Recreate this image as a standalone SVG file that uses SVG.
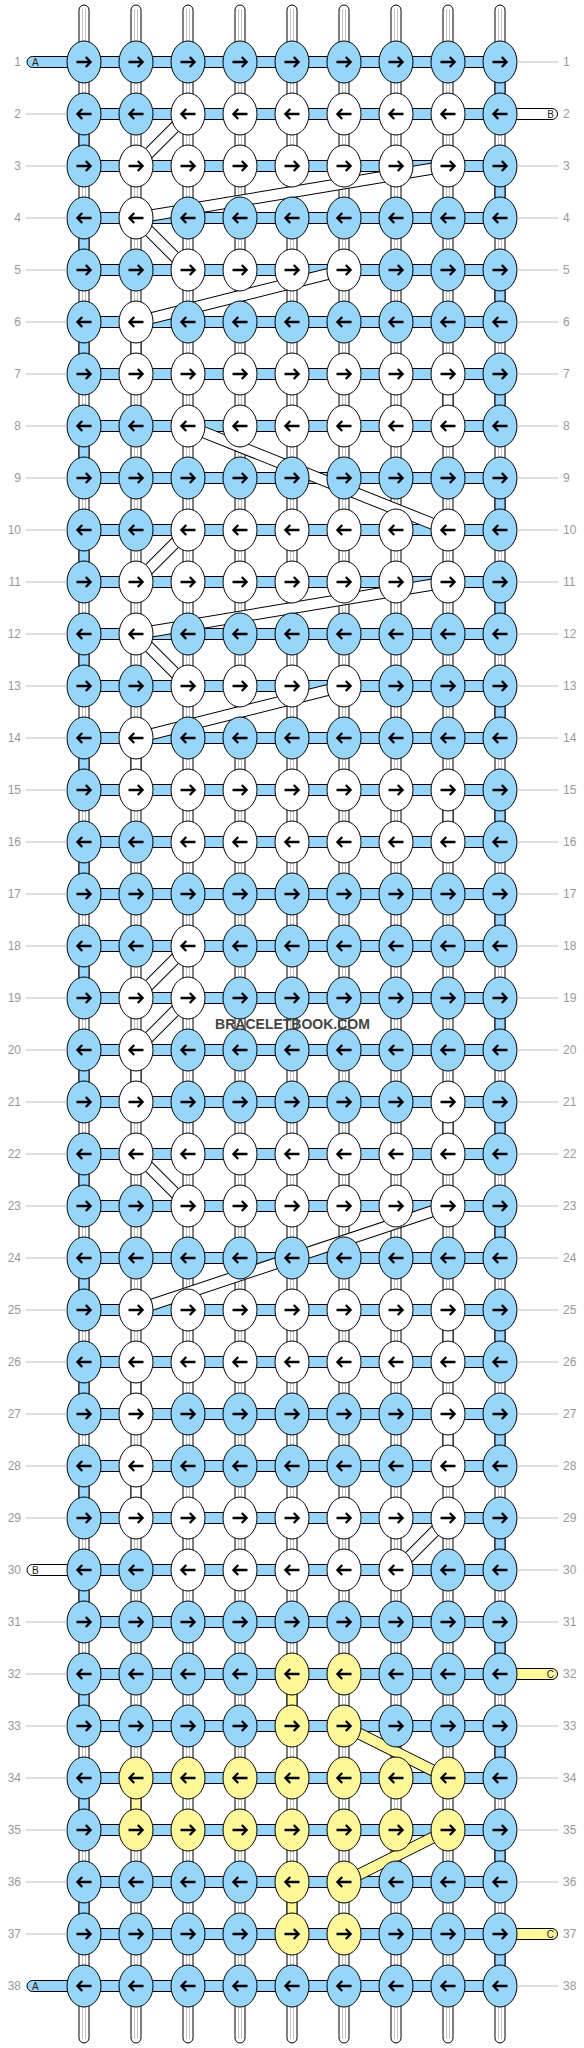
<svg xmlns="http://www.w3.org/2000/svg" xmlns:xlink="http://www.w3.org/1999/xlink" width="584" height="2048" viewBox="0 0 584 2048">
<style>
.v{fill:#fff;stroke:#000;stroke-width:1}
.g{stroke:#c4c4c4;stroke-width:1;fill:none}
.bl{fill:#98d5fb;stroke:#000;stroke-width:1}
.wh{fill:#fff;stroke:#000;stroke-width:1}
.ye{fill:#fff89a;stroke:#000;stroke-width:1}
.bo{stroke:#000;stroke-width:12}
.bw{stroke:#fff;stroke-width:10}
.by{stroke:#fff89a;stroke-width:10}
.num{font-family:"Liberation Sans",Arial,sans-serif;font-size:12px;fill:#999}
.r{text-anchor:start}
.l{text-anchor:end}
.rl{stroke:#bbb;stroke-width:1;fill:none}
.lab{font-family:"Liberation Sans",Arial,sans-serif;font-size:10px;fill:#222}
.wm{font-family:"Liberation Sans",Arial,sans-serif;font-weight:bold;font-size:14px;fill:#444;text-anchor:middle}
</style>
<defs>
<path id="ar" d="M-7.5 0H6M1.8-5 6.6 0 1.8 5" fill="none" stroke="#000" stroke-width="2.3"/>
<g id="BR"><ellipse class="bl" rx="17" ry="21"/><use href="#ar"/></g>
<g id="BL"><ellipse class="bl" rx="17" ry="21"/><use href="#ar" transform="scale(-1 1)"/></g>
<g id="WR"><ellipse class="wh" rx="17" ry="21"/><use href="#ar"/></g>
<g id="WL"><ellipse class="wh" rx="17" ry="21"/><use href="#ar" transform="scale(-1 1)"/></g>
<g id="YR"><ellipse class="ye" rx="17" ry="21"/><use href="#ar"/></g>
<g id="YL"><ellipse class="ye" rx="17" ry="21"/><use href="#ar" transform="scale(-1 1)"/></g>
<rect id="sb" class="bl" width="10" height="24"/>
<rect id="sw" class="wh" width="10" height="24"/>
<rect id="sy" class="ye" width="10" height="24"/>
<rect id="hb" class="bl" x="84" y="-5.5" width="416" height="11"/>
</defs>
<rect width="584" height="2048" fill="#fff"/>
<g id="connectors">
<g id="threads">
<rect class="v" x="79" y="5" width="10" height="2038" rx="5"/>
<rect class="v" x="131" y="5" width="10" height="2038" rx="5"/>
<rect class="v" x="183" y="5" width="10" height="2038" rx="5"/>
<rect class="v" x="235" y="5" width="10" height="2038" rx="5"/>
<rect class="v" x="287" y="5" width="10" height="2038" rx="5"/>
<rect class="v" x="339" y="5" width="10" height="2038" rx="5"/>
<rect class="v" x="391" y="5" width="10" height="2038" rx="5"/>
<rect class="v" x="443" y="5" width="10" height="2038" rx="5"/>
<rect class="v" x="495" y="5" width="10" height="2038" rx="5"/>
<path class="g" d="M82.5 9V2039M85.5 9V2039M134.5 9V2039M137.5 9V2039M186.5 9V2039M189.5 9V2039M238.5 9V2039M241.5 9V2039M290.5 9V2039M293.5 9V2039M342.5 9V2039M345.5 9V2039M394.5 9V2039M397.5 9V2039M446.5 9V2039M449.5 9V2039M498.5 9V2039M501.5 9V2039"/>
</g>
<g id="vsegs">
<use href="#sb" x="495" y="76"/><use href="#sb" x="79" y="128"/><use href="#sb" x="495" y="180"/><use href="#sb" x="79" y="232"/><use href="#sb" x="495" y="284"/><use href="#sb" x="79" y="336"/><use href="#sb" x="495" y="388"/><use href="#sb" x="79" y="440"/><use href="#sb" x="495" y="492"/><use href="#sb" x="79" y="544"/><use href="#sb" x="495" y="596"/><use href="#sb" x="79" y="648"/><use href="#sb" x="495" y="700"/><use href="#sb" x="79" y="752"/><use href="#sb" x="495" y="804"/><use href="#sb" x="79" y="856"/><use href="#sb" x="495" y="908"/><use href="#sb" x="79" y="960"/><use href="#sb" x="495" y="1012"/><use href="#sb" x="79" y="1064"/><use href="#sb" x="495" y="1116"/><use href="#sb" x="79" y="1168"/><use href="#sb" x="495" y="1220"/><use href="#sb" x="79" y="1272"/><use href="#sb" x="495" y="1324"/><use href="#sb" x="79" y="1376"/><use href="#sb" x="495" y="1428"/><use href="#sb" x="79" y="1480"/><use href="#sb" x="495" y="1532"/><use href="#sb" x="79" y="1584"/><use href="#sb" x="495" y="1636"/><use href="#sb" x="79" y="1688"/><use href="#sb" x="495" y="1740"/><use href="#sb" x="79" y="1792"/><use href="#sb" x="495" y="1844"/><use href="#sb" x="79" y="1896"/><use href="#sb" x="495" y="1948"/>
<use href="#sw" x="131" y="336"/><use href="#sw" x="443" y="388"/><use href="#sw" x="131" y="752"/><use href="#sw" x="443" y="804"/><use href="#sw" x="131" y="1064"/><use href="#sw" x="443" y="1116"/><use href="#sw" x="443" y="1324"/><use href="#sw" x="131" y="1376"/><use href="#sw" x="443" y="1428"/><use href="#sw" x="131" y="1480"/>
<use href="#sy" x="287" y="1688"/><use href="#sy" x="131" y="1792"/><use href="#sy" x="287" y="1896"/>
</g>
<g id="hbars">
<use href="#hb" y="62"/><use href="#hb" y="114"/><use href="#hb" y="166"/><use href="#hb" y="218"/><use href="#hb" y="270"/><use href="#hb" y="322"/><use href="#hb" y="374"/><use href="#hb" y="426"/><use href="#hb" y="478"/><use href="#hb" y="530"/><use href="#hb" y="582"/><use href="#hb" y="634"/><use href="#hb" y="686"/><use href="#hb" y="738"/><use href="#hb" y="790"/><use href="#hb" y="842"/><use href="#hb" y="894"/><use href="#hb" y="946"/><use href="#hb" y="998"/><use href="#hb" y="1050"/><use href="#hb" y="1102"/><use href="#hb" y="1154"/><use href="#hb" y="1206"/><use href="#hb" y="1258"/><use href="#hb" y="1310"/><use href="#hb" y="1362"/><use href="#hb" y="1414"/><use href="#hb" y="1466"/><use href="#hb" y="1518"/><use href="#hb" y="1570"/><use href="#hb" y="1622"/><use href="#hb" y="1674"/><use href="#hb" y="1726"/><use href="#hb" y="1778"/><use href="#hb" y="1830"/><use href="#hb" y="1882"/><use href="#hb" y="1934"/><use href="#hb" y="1986"/>
<rect class="bl" x="27" y="56.5" width="60" height="11" rx="5.5"/>
<rect class="bl" x="27" y="1980.5" width="60" height="11" rx="5.5"/>
<rect class="wh" x="27" y="1564.5" width="60" height="11" rx="5.5"/>
<rect class="wh" x="497" y="108.5" width="60.5" height="11" rx="5.5"/>
<rect class="ye" x="497" y="1668.5" width="60.5" height="11" rx="5.5"/>
<rect class="ye" x="497" y="1928.5" width="60.5" height="11" rx="5.5"/>
</g>
<g id="bands">
<path class="bo" d="M188 114L136 166M448 166L136 218M136 218L188 270M344 270L136 322M188 426L448 530M188 530L136 582M448 582L136 634M136 634L188 686M344 686L136 738M188 946L136 998M188 998L136 1050M136 1154L188 1206M448 1206L136 1310M448 1518L396 1570M344 1726L448 1778M448 1830L344 1882"/>
<path class="bw" d="M188 114L136 166M448 166L136 218M136 218L188 270M344 270L136 322M188 426L448 530M188 530L136 582M448 582L136 634M136 634L188 686M344 686L136 738M188 946L136 998M188 998L136 1050M136 1154L188 1206M448 1206L136 1310M448 1518L396 1570"/>
<path class="by" d="M344 1726L448 1778M448 1830L344 1882"/>
</g>
</g>
<g id="nodes">
<g id="row1" transform="translate(0 62)"><g id="n1-1"><use href="#BR" x="84"/></g><g id="n1-2"><use href="#BR" x="136"/></g><g id="n1-3"><use href="#BR" x="188"/></g><g id="n1-4"><use href="#BR" x="240"/></g><g id="n1-5"><use href="#BR" x="292"/></g><g id="n1-6"><use href="#BR" x="344"/></g><g id="n1-7"><use href="#BR" x="396"/></g><g id="n1-8"><use href="#BR" x="448"/></g><g id="n1-9"><use href="#BR" x="500"/></g></g>
<g id="row2" transform="translate(0 114)"><g id="n2-1"><use href="#BL" x="84"/></g><g id="n2-2"><use href="#BL" x="136"/></g><g id="n2-3"><use href="#WL" x="188"/></g><g id="n2-4"><use href="#WL" x="240"/></g><g id="n2-5"><use href="#WL" x="292"/></g><g id="n2-6"><use href="#WL" x="344"/></g><g id="n2-7"><use href="#WL" x="396"/></g><g id="n2-8"><use href="#WL" x="448"/></g><g id="n2-9"><use href="#BL" x="500"/></g></g>
<g id="row3" transform="translate(0 166)"><g id="n3-1"><use href="#BR" x="84"/></g><g id="n3-2"><use href="#WR" x="136"/></g><g id="n3-3"><use href="#WR" x="188"/></g><g id="n3-4"><use href="#WR" x="240"/></g><g id="n3-5"><use href="#WR" x="292"/></g><g id="n3-6"><use href="#WR" x="344"/></g><g id="n3-7"><use href="#WR" x="396"/></g><g id="n3-8"><use href="#WR" x="448"/></g><g id="n3-9"><use href="#BR" x="500"/></g></g>
<g id="row4" transform="translate(0 218)"><g id="n4-1"><use href="#BL" x="84"/></g><g id="n4-2"><use href="#WL" x="136"/></g><g id="n4-3"><use href="#BL" x="188"/></g><g id="n4-4"><use href="#BL" x="240"/></g><g id="n4-5"><use href="#BL" x="292"/></g><g id="n4-6"><use href="#BL" x="344"/></g><g id="n4-7"><use href="#BL" x="396"/></g><g id="n4-8"><use href="#BL" x="448"/></g><g id="n4-9"><use href="#BL" x="500"/></g></g>
<g id="row5" transform="translate(0 270)"><g id="n5-1"><use href="#BR" x="84"/></g><g id="n5-2"><use href="#BR" x="136"/></g><g id="n5-3"><use href="#WR" x="188"/></g><g id="n5-4"><use href="#WR" x="240"/></g><g id="n5-5"><use href="#WR" x="292"/></g><g id="n5-6"><use href="#WR" x="344"/></g><g id="n5-7"><use href="#BR" x="396"/></g><g id="n5-8"><use href="#BR" x="448"/></g><g id="n5-9"><use href="#BR" x="500"/></g></g>
<g id="row6" transform="translate(0 322)"><g id="n6-1"><use href="#BL" x="84"/></g><g id="n6-2"><use href="#WL" x="136"/></g><g id="n6-3"><use href="#BL" x="188"/></g><g id="n6-4"><use href="#BL" x="240"/></g><g id="n6-5"><use href="#BL" x="292"/></g><g id="n6-6"><use href="#BL" x="344"/></g><g id="n6-7"><use href="#BL" x="396"/></g><g id="n6-8"><use href="#BL" x="448"/></g><g id="n6-9"><use href="#BL" x="500"/></g></g>
<g id="row7" transform="translate(0 374)"><g id="n7-1"><use href="#BR" x="84"/></g><g id="n7-2"><use href="#WR" x="136"/></g><g id="n7-3"><use href="#WR" x="188"/></g><g id="n7-4"><use href="#WR" x="240"/></g><g id="n7-5"><use href="#WR" x="292"/></g><g id="n7-6"><use href="#WR" x="344"/></g><g id="n7-7"><use href="#WR" x="396"/></g><g id="n7-8"><use href="#WR" x="448"/></g><g id="n7-9"><use href="#BR" x="500"/></g></g>
<g id="row8" transform="translate(0 426)"><g id="n8-1"><use href="#BL" x="84"/></g><g id="n8-2"><use href="#BL" x="136"/></g><g id="n8-3"><use href="#WL" x="188"/></g><g id="n8-4"><use href="#WL" x="240"/></g><g id="n8-5"><use href="#WL" x="292"/></g><g id="n8-6"><use href="#WL" x="344"/></g><g id="n8-7"><use href="#WL" x="396"/></g><g id="n8-8"><use href="#WL" x="448"/></g><g id="n8-9"><use href="#BL" x="500"/></g></g>
<g id="row9" transform="translate(0 478)"><g id="n9-1"><use href="#BR" x="84"/></g><g id="n9-2"><use href="#BR" x="136"/></g><g id="n9-3"><use href="#BR" x="188"/></g><g id="n9-4"><use href="#BR" x="240"/></g><g id="n9-5"><use href="#BR" x="292"/></g><g id="n9-6"><use href="#BR" x="344"/></g><g id="n9-7"><use href="#BR" x="396"/></g><g id="n9-8"><use href="#BR" x="448"/></g><g id="n9-9"><use href="#BR" x="500"/></g></g>
<g id="row10" transform="translate(0 530)"><g id="n10-1"><use href="#BL" x="84"/></g><g id="n10-2"><use href="#BL" x="136"/></g><g id="n10-3"><use href="#WL" x="188"/></g><g id="n10-4"><use href="#WL" x="240"/></g><g id="n10-5"><use href="#WL" x="292"/></g><g id="n10-6"><use href="#WL" x="344"/></g><g id="n10-7"><use href="#WL" x="396"/></g><g id="n10-8"><use href="#WL" x="448"/></g><g id="n10-9"><use href="#BL" x="500"/></g></g>
<g id="row11" transform="translate(0 582)"><g id="n11-1"><use href="#BR" x="84"/></g><g id="n11-2"><use href="#WR" x="136"/></g><g id="n11-3"><use href="#WR" x="188"/></g><g id="n11-4"><use href="#WR" x="240"/></g><g id="n11-5"><use href="#WR" x="292"/></g><g id="n11-6"><use href="#WR" x="344"/></g><g id="n11-7"><use href="#WR" x="396"/></g><g id="n11-8"><use href="#WR" x="448"/></g><g id="n11-9"><use href="#BR" x="500"/></g></g>
<g id="row12" transform="translate(0 634)"><g id="n12-1"><use href="#BL" x="84"/></g><g id="n12-2"><use href="#WL" x="136"/></g><g id="n12-3"><use href="#BL" x="188"/></g><g id="n12-4"><use href="#BL" x="240"/></g><g id="n12-5"><use href="#BL" x="292"/></g><g id="n12-6"><use href="#BL" x="344"/></g><g id="n12-7"><use href="#BL" x="396"/></g><g id="n12-8"><use href="#BL" x="448"/></g><g id="n12-9"><use href="#BL" x="500"/></g></g>
<g id="row13" transform="translate(0 686)"><g id="n13-1"><use href="#BR" x="84"/></g><g id="n13-2"><use href="#BR" x="136"/></g><g id="n13-3"><use href="#WR" x="188"/></g><g id="n13-4"><use href="#WR" x="240"/></g><g id="n13-5"><use href="#WR" x="292"/></g><g id="n13-6"><use href="#WR" x="344"/></g><g id="n13-7"><use href="#BR" x="396"/></g><g id="n13-8"><use href="#BR" x="448"/></g><g id="n13-9"><use href="#BR" x="500"/></g></g>
<g id="row14" transform="translate(0 738)"><g id="n14-1"><use href="#BL" x="84"/></g><g id="n14-2"><use href="#WL" x="136"/></g><g id="n14-3"><use href="#BL" x="188"/></g><g id="n14-4"><use href="#BL" x="240"/></g><g id="n14-5"><use href="#BL" x="292"/></g><g id="n14-6"><use href="#BL" x="344"/></g><g id="n14-7"><use href="#BL" x="396"/></g><g id="n14-8"><use href="#BL" x="448"/></g><g id="n14-9"><use href="#BL" x="500"/></g></g>
<g id="row15" transform="translate(0 790)"><g id="n15-1"><use href="#BR" x="84"/></g><g id="n15-2"><use href="#WR" x="136"/></g><g id="n15-3"><use href="#WR" x="188"/></g><g id="n15-4"><use href="#WR" x="240"/></g><g id="n15-5"><use href="#WR" x="292"/></g><g id="n15-6"><use href="#WR" x="344"/></g><g id="n15-7"><use href="#WR" x="396"/></g><g id="n15-8"><use href="#WR" x="448"/></g><g id="n15-9"><use href="#BR" x="500"/></g></g>
<g id="row16" transform="translate(0 842)"><g id="n16-1"><use href="#BL" x="84"/></g><g id="n16-2"><use href="#BL" x="136"/></g><g id="n16-3"><use href="#WL" x="188"/></g><g id="n16-4"><use href="#WL" x="240"/></g><g id="n16-5"><use href="#WL" x="292"/></g><g id="n16-6"><use href="#WL" x="344"/></g><g id="n16-7"><use href="#WL" x="396"/></g><g id="n16-8"><use href="#WL" x="448"/></g><g id="n16-9"><use href="#BL" x="500"/></g></g>
<g id="row17" transform="translate(0 894)"><g id="n17-1"><use href="#BR" x="84"/></g><g id="n17-2"><use href="#BR" x="136"/></g><g id="n17-3"><use href="#BR" x="188"/></g><g id="n17-4"><use href="#BR" x="240"/></g><g id="n17-5"><use href="#BR" x="292"/></g><g id="n17-6"><use href="#BR" x="344"/></g><g id="n17-7"><use href="#BR" x="396"/></g><g id="n17-8"><use href="#BR" x="448"/></g><g id="n17-9"><use href="#BR" x="500"/></g></g>
<g id="row18" transform="translate(0 946)"><g id="n18-1"><use href="#BL" x="84"/></g><g id="n18-2"><use href="#BL" x="136"/></g><g id="n18-3"><use href="#WL" x="188"/></g><g id="n18-4"><use href="#BL" x="240"/></g><g id="n18-5"><use href="#BL" x="292"/></g><g id="n18-6"><use href="#BL" x="344"/></g><g id="n18-7"><use href="#BL" x="396"/></g><g id="n18-8"><use href="#BL" x="448"/></g><g id="n18-9"><use href="#BL" x="500"/></g></g>
<g id="row19" transform="translate(0 998)"><g id="n19-1"><use href="#BR" x="84"/></g><g id="n19-2"><use href="#WR" x="136"/></g><g id="n19-3"><use href="#WR" x="188"/></g><g id="n19-4"><use href="#BR" x="240"/></g><g id="n19-5"><use href="#BR" x="292"/></g><g id="n19-6"><use href="#BR" x="344"/></g><g id="n19-7"><use href="#BR" x="396"/></g><g id="n19-8"><use href="#BR" x="448"/></g><g id="n19-9"><use href="#BR" x="500"/></g></g>
<g id="row20" transform="translate(0 1050)"><g id="n20-1"><use href="#BL" x="84"/></g><g id="n20-2"><use href="#WL" x="136"/></g><g id="n20-3"><use href="#BL" x="188"/></g><g id="n20-4"><use href="#BL" x="240"/></g><g id="n20-5"><use href="#BL" x="292"/></g><g id="n20-6"><use href="#BL" x="344"/></g><g id="n20-7"><use href="#BL" x="396"/></g><g id="n20-8"><use href="#BL" x="448"/></g><g id="n20-9"><use href="#BL" x="500"/></g></g>
<g id="row21" transform="translate(0 1102)"><g id="n21-1"><use href="#BR" x="84"/></g><g id="n21-2"><use href="#WR" x="136"/></g><g id="n21-3"><use href="#BR" x="188"/></g><g id="n21-4"><use href="#BR" x="240"/></g><g id="n21-5"><use href="#BR" x="292"/></g><g id="n21-6"><use href="#BR" x="344"/></g><g id="n21-7"><use href="#BR" x="396"/></g><g id="n21-8"><use href="#WR" x="448"/></g><g id="n21-9"><use href="#BR" x="500"/></g></g>
<g id="row22" transform="translate(0 1154)"><g id="n22-1"><use href="#BL" x="84"/></g><g id="n22-2"><use href="#WL" x="136"/></g><g id="n22-3"><use href="#WL" x="188"/></g><g id="n22-4"><use href="#WL" x="240"/></g><g id="n22-5"><use href="#WL" x="292"/></g><g id="n22-6"><use href="#WL" x="344"/></g><g id="n22-7"><use href="#WL" x="396"/></g><g id="n22-8"><use href="#WL" x="448"/></g><g id="n22-9"><use href="#BL" x="500"/></g></g>
<g id="row23" transform="translate(0 1206)"><g id="n23-1"><use href="#BR" x="84"/></g><g id="n23-2"><use href="#BR" x="136"/></g><g id="n23-3"><use href="#WR" x="188"/></g><g id="n23-4"><use href="#WR" x="240"/></g><g id="n23-5"><use href="#WR" x="292"/></g><g id="n23-6"><use href="#WR" x="344"/></g><g id="n23-7"><use href="#WR" x="396"/></g><g id="n23-8"><use href="#WR" x="448"/></g><g id="n23-9"><use href="#BR" x="500"/></g></g>
<g id="row24" transform="translate(0 1258)"><g id="n24-1"><use href="#BL" x="84"/></g><g id="n24-2"><use href="#BL" x="136"/></g><g id="n24-3"><use href="#BL" x="188"/></g><g id="n24-4"><use href="#BL" x="240"/></g><g id="n24-5"><use href="#BL" x="292"/></g><g id="n24-6"><use href="#BL" x="344"/></g><g id="n24-7"><use href="#BL" x="396"/></g><g id="n24-8"><use href="#BL" x="448"/></g><g id="n24-9"><use href="#BL" x="500"/></g></g>
<g id="row25" transform="translate(0 1310)"><g id="n25-1"><use href="#BR" x="84"/></g><g id="n25-2"><use href="#WR" x="136"/></g><g id="n25-3"><use href="#WR" x="188"/></g><g id="n25-4"><use href="#WR" x="240"/></g><g id="n25-5"><use href="#WR" x="292"/></g><g id="n25-6"><use href="#WR" x="344"/></g><g id="n25-7"><use href="#WR" x="396"/></g><g id="n25-8"><use href="#WR" x="448"/></g><g id="n25-9"><use href="#BR" x="500"/></g></g>
<g id="row26" transform="translate(0 1362)"><g id="n26-1"><use href="#BL" x="84"/></g><g id="n26-2"><use href="#WL" x="136"/></g><g id="n26-3"><use href="#WL" x="188"/></g><g id="n26-4"><use href="#WL" x="240"/></g><g id="n26-5"><use href="#WL" x="292"/></g><g id="n26-6"><use href="#WL" x="344"/></g><g id="n26-7"><use href="#WL" x="396"/></g><g id="n26-8"><use href="#WL" x="448"/></g><g id="n26-9"><use href="#BL" x="500"/></g></g>
<g id="row27" transform="translate(0 1414)"><g id="n27-1"><use href="#BR" x="84"/></g><g id="n27-2"><use href="#WR" x="136"/></g><g id="n27-3"><use href="#BR" x="188"/></g><g id="n27-4"><use href="#BR" x="240"/></g><g id="n27-5"><use href="#BR" x="292"/></g><g id="n27-6"><use href="#BR" x="344"/></g><g id="n27-7"><use href="#BR" x="396"/></g><g id="n27-8"><use href="#WR" x="448"/></g><g id="n27-9"><use href="#BR" x="500"/></g></g>
<g id="row28" transform="translate(0 1466)"><g id="n28-1"><use href="#BL" x="84"/></g><g id="n28-2"><use href="#WL" x="136"/></g><g id="n28-3"><use href="#BL" x="188"/></g><g id="n28-4"><use href="#BL" x="240"/></g><g id="n28-5"><use href="#BL" x="292"/></g><g id="n28-6"><use href="#BL" x="344"/></g><g id="n28-7"><use href="#BL" x="396"/></g><g id="n28-8"><use href="#WL" x="448"/></g><g id="n28-9"><use href="#BL" x="500"/></g></g>
<g id="row29" transform="translate(0 1518)"><g id="n29-1"><use href="#BR" x="84"/></g><g id="n29-2"><use href="#WR" x="136"/></g><g id="n29-3"><use href="#WR" x="188"/></g><g id="n29-4"><use href="#WR" x="240"/></g><g id="n29-5"><use href="#WR" x="292"/></g><g id="n29-6"><use href="#WR" x="344"/></g><g id="n29-7"><use href="#WR" x="396"/></g><g id="n29-8"><use href="#WR" x="448"/></g><g id="n29-9"><use href="#BR" x="500"/></g></g>
<g id="row30" transform="translate(0 1570)"><g id="n30-1"><use href="#BL" x="84"/></g><g id="n30-2"><use href="#BL" x="136"/></g><g id="n30-3"><use href="#WL" x="188"/></g><g id="n30-4"><use href="#WL" x="240"/></g><g id="n30-5"><use href="#WL" x="292"/></g><g id="n30-6"><use href="#WL" x="344"/></g><g id="n30-7"><use href="#WL" x="396"/></g><g id="n30-8"><use href="#BL" x="448"/></g><g id="n30-9"><use href="#BL" x="500"/></g></g>
<g id="row31" transform="translate(0 1622)"><g id="n31-1"><use href="#BR" x="84"/></g><g id="n31-2"><use href="#BR" x="136"/></g><g id="n31-3"><use href="#BR" x="188"/></g><g id="n31-4"><use href="#BR" x="240"/></g><g id="n31-5"><use href="#BR" x="292"/></g><g id="n31-6"><use href="#BR" x="344"/></g><g id="n31-7"><use href="#BR" x="396"/></g><g id="n31-8"><use href="#BR" x="448"/></g><g id="n31-9"><use href="#BR" x="500"/></g></g>
<g id="row32" transform="translate(0 1674)"><g id="n32-1"><use href="#BL" x="84"/></g><g id="n32-2"><use href="#BL" x="136"/></g><g id="n32-3"><use href="#BL" x="188"/></g><g id="n32-4"><use href="#BL" x="240"/></g><g id="n32-5"><use href="#YL" x="292"/></g><g id="n32-6"><use href="#YL" x="344"/></g><g id="n32-7"><use href="#BL" x="396"/></g><g id="n32-8"><use href="#BL" x="448"/></g><g id="n32-9"><use href="#BL" x="500"/></g></g>
<g id="row33" transform="translate(0 1726)"><g id="n33-1"><use href="#BR" x="84"/></g><g id="n33-2"><use href="#BR" x="136"/></g><g id="n33-3"><use href="#BR" x="188"/></g><g id="n33-4"><use href="#BR" x="240"/></g><g id="n33-5"><use href="#YR" x="292"/></g><g id="n33-6"><use href="#YR" x="344"/></g><g id="n33-7"><use href="#BR" x="396"/></g><g id="n33-8"><use href="#BR" x="448"/></g><g id="n33-9"><use href="#BR" x="500"/></g></g>
<g id="row34" transform="translate(0 1778)"><g id="n34-1"><use href="#BL" x="84"/></g><g id="n34-2"><use href="#YL" x="136"/></g><g id="n34-3"><use href="#YL" x="188"/></g><g id="n34-4"><use href="#YL" x="240"/></g><g id="n34-5"><use href="#YL" x="292"/></g><g id="n34-6"><use href="#YL" x="344"/></g><g id="n34-7"><use href="#YL" x="396"/></g><g id="n34-8"><use href="#YL" x="448"/></g><g id="n34-9"><use href="#BL" x="500"/></g></g>
<g id="row35" transform="translate(0 1830)"><g id="n35-1"><use href="#BR" x="84"/></g><g id="n35-2"><use href="#YR" x="136"/></g><g id="n35-3"><use href="#YR" x="188"/></g><g id="n35-4"><use href="#YR" x="240"/></g><g id="n35-5"><use href="#YR" x="292"/></g><g id="n35-6"><use href="#YR" x="344"/></g><g id="n35-7"><use href="#YR" x="396"/></g><g id="n35-8"><use href="#YR" x="448"/></g><g id="n35-9"><use href="#BR" x="500"/></g></g>
<g id="row36" transform="translate(0 1882)"><g id="n36-1"><use href="#BL" x="84"/></g><g id="n36-2"><use href="#BL" x="136"/></g><g id="n36-3"><use href="#BL" x="188"/></g><g id="n36-4"><use href="#BL" x="240"/></g><g id="n36-5"><use href="#YL" x="292"/></g><g id="n36-6"><use href="#YL" x="344"/></g><g id="n36-7"><use href="#BL" x="396"/></g><g id="n36-8"><use href="#BL" x="448"/></g><g id="n36-9"><use href="#BL" x="500"/></g></g>
<g id="row37" transform="translate(0 1934)"><g id="n37-1"><use href="#BR" x="84"/></g><g id="n37-2"><use href="#BR" x="136"/></g><g id="n37-3"><use href="#BR" x="188"/></g><g id="n37-4"><use href="#BR" x="240"/></g><g id="n37-5"><use href="#YR" x="292"/></g><g id="n37-6"><use href="#YR" x="344"/></g><g id="n37-7"><use href="#BR" x="396"/></g><g id="n37-8"><use href="#BR" x="448"/></g><g id="n37-9"><use href="#BR" x="500"/></g></g>
<g id="row38" transform="translate(0 1986)"><g id="n38-1"><use href="#BL" x="84"/></g><g id="n38-2"><use href="#BL" x="136"/></g><g id="n38-3"><use href="#BL" x="188"/></g><g id="n38-4"><use href="#BL" x="240"/></g><g id="n38-5"><use href="#BL" x="292"/></g><g id="n38-6"><use href="#BL" x="344"/></g><g id="n38-7"><use href="#BL" x="396"/></g><g id="n38-8"><use href="#BL" x="448"/></g><g id="n38-9"><use href="#BL" x="500"/></g></g>
</g>
<g id="rowlines">
<path class="rl" d="M26 114H67M26 166H67M26 218H67M26 270H67M26 322H67M26 374H67M26 426H67M26 478H67M26 530H67M26 582H67M26 634H67M26 686H67M26 738H67M26 790H67M26 842H67M26 894H67M26 946H67M26 998H67M26 1050H67M26 1102H67M26 1154H67M26 1206H67M26 1258H67M26 1310H67M26 1362H67M26 1414H67M26 1466H67M26 1518H67M26 1622H67M26 1674H67M26 1726H67M26 1778H67M26 1830H67M26 1882H67M26 1934H67"/>
<path class="rl" d="M517 62H558M517 166H558M517 218H558M517 270H558M517 322H558M517 374H558M517 426H558M517 478H558M517 530H558M517 582H558M517 634H558M517 686H558M517 738H558M517 790H558M517 842H558M517 894H558M517 946H558M517 998H558M517 1050H558M517 1102H558M517 1154H558M517 1206H558M517 1258H558M517 1310H558M517 1362H558M517 1414H558M517 1466H558M517 1518H558M517 1570H558M517 1622H558M517 1726H558M517 1778H558M517 1830H558M517 1882H558M517 1986H558"/>
</g>
<g id="labels">
<text class="lab" x="32" y="65.5">A</text>
<text class="lab" x="32" y="1989.5">A</text>
<text class="lab" x="32" y="1573.5">B</text>
<text class="lab l" x="554" y="117.5">B</text>
<text class="lab l" x="554" y="1677.5">C</text>
<text class="lab l" x="554" y="1937.5">C</text>
</g>
<g id="rownums-left" class="num l">
<text x="21" y="66">1</text><text x="21" y="118">2</text><text x="21" y="170">3</text><text x="21" y="222">4</text><text x="21" y="274">5</text><text x="21" y="326">6</text><text x="21" y="378">7</text><text x="21" y="430">8</text><text x="21" y="482">9</text><text x="21" y="534">10</text><text x="21" y="586">11</text><text x="21" y="638">12</text><text x="21" y="690">13</text><text x="21" y="742">14</text><text x="21" y="794">15</text><text x="21" y="846">16</text><text x="21" y="898">17</text><text x="21" y="950">18</text><text x="21" y="1002">19</text><text x="21" y="1054">20</text><text x="21" y="1106">21</text><text x="21" y="1158">22</text><text x="21" y="1210">23</text><text x="21" y="1262">24</text><text x="21" y="1314">25</text><text x="21" y="1366">26</text><text x="21" y="1418">27</text><text x="21" y="1470">28</text><text x="21" y="1522">29</text><text x="21" y="1574">30</text><text x="21" y="1626">31</text><text x="21" y="1678">32</text><text x="21" y="1730">33</text><text x="21" y="1782">34</text><text x="21" y="1834">35</text><text x="21" y="1886">36</text><text x="21" y="1938">37</text><text x="21" y="1990">38</text>
</g>
<g id="rownums-right" class="num r">
<text x="563" y="66">1</text><text x="563" y="118">2</text><text x="563" y="170">3</text><text x="563" y="222">4</text><text x="563" y="274">5</text><text x="563" y="326">6</text><text x="563" y="378">7</text><text x="563" y="430">8</text><text x="563" y="482">9</text><text x="563" y="534">10</text><text x="563" y="586">11</text><text x="563" y="638">12</text><text x="563" y="690">13</text><text x="563" y="742">14</text><text x="563" y="794">15</text><text x="563" y="846">16</text><text x="563" y="898">17</text><text x="563" y="950">18</text><text x="563" y="1002">19</text><text x="563" y="1054">20</text><text x="563" y="1106">21</text><text x="563" y="1158">22</text><text x="563" y="1210">23</text><text x="563" y="1262">24</text><text x="563" y="1314">25</text><text x="563" y="1366">26</text><text x="563" y="1418">27</text><text x="563" y="1470">28</text><text x="563" y="1522">29</text><text x="563" y="1574">30</text><text x="563" y="1626">31</text><text x="563" y="1678">32</text><text x="563" y="1730">33</text><text x="563" y="1782">34</text><text x="563" y="1834">35</text><text x="563" y="1886">36</text><text x="563" y="1938">37</text><text x="563" y="1990">38</text>
</g>
<text class="wm" x="292.5" y="1029">BRACELETBOOK.COM</text>
</svg>
